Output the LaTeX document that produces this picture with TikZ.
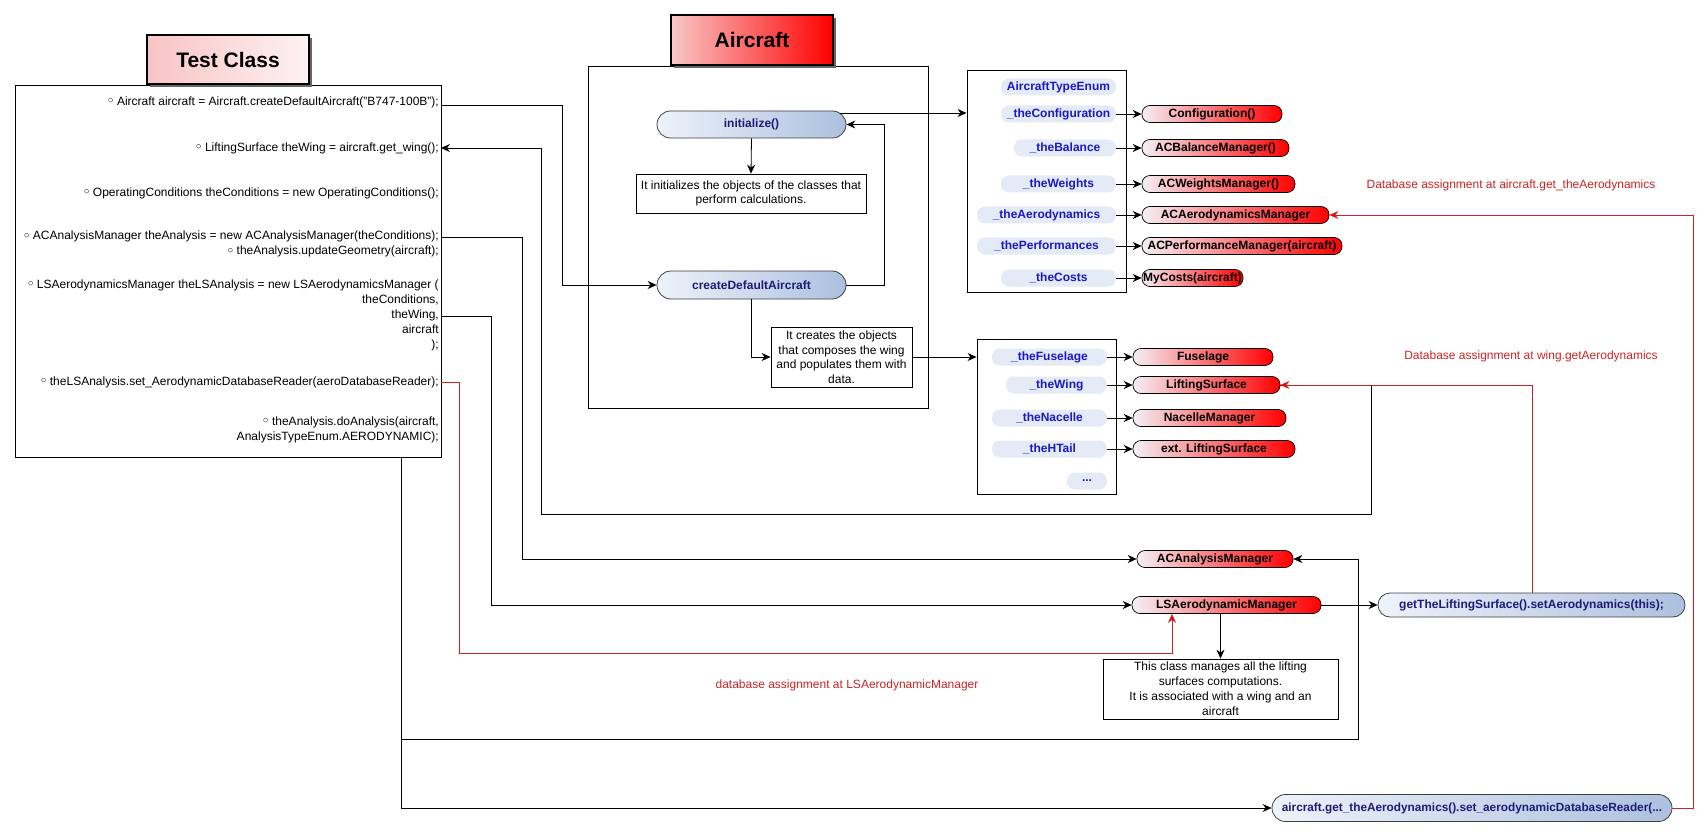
\documentclass[tikz,border=0pt]{standalone}
\usepackage{fontspec}
\setmainfont{Liberation Sans}
\usetikzlibrary{arrows.meta,shadows,calc}
\definecolor{navy}{RGB}{28,28,120}
\definecolor{itemblue}{RGB}{25,25,200}
\definecolor{itemfill}{RGB}{228,234,246}
\definecolor{dbred}{RGB}{205,35,35}
\definecolor{pillL}{RGB}{238,242,250}
\definecolor{pillR}{RGB}{172,192,222}
\definecolor{redL}{RGB}{244,240,246}
\definecolor{redR}{RGB}{255,0,0}
\definecolor{tcL}{RGB}{249,196,196}
\definecolor{tcR}{RGB}{253,242,242}
\definecolor{acL}{RGB}{248,200,200}
\newcommand{\bul}{\raisebox{1.2pt}{\fontsize{9.5}{9.5}\selectfont ○}}
\tikzset{
  arr/.style={draw=black,line width=0.8pt,-{Stealth[length=9pt,width=8pt,inset=3pt]}},
  redarr/.style={draw=dbred,line width=0.8pt,-{Stealth[length=9pt,width=8pt,inset=3pt,fill=red]}},
  plainline/.style={draw=black,line width=0.8pt},
  frame/.style={draw=black,line width=0.9pt,fill=white,inner sep=0pt},
  titlebox/.style={draw=black,line width=2.6pt,inner sep=0pt,
    font=\fontsize{21}{25}\selectfont\bfseries,
    drop shadow={shadow xshift=3pt,shadow yshift=-3pt,fill=black!60,opacity=1}},
  mpill/.style={draw=black!75,line width=0.8pt,left color=pillL,right color=pillR,
    inner sep=0pt,font=\fontsize{12}{14}\selectfont\bfseries,text=navy},
  item/.style={fill=itemfill,rounded corners=8pt,minimum height=17pt,inner sep=0pt,
    font=\fontsize{12}{14}\selectfont\bfseries,text=itemblue},
  rpill/.style={draw=black,line width=0.7pt,left color=redL,right color=redR,
    rounded corners=8pt,minimum height=17pt,inner sep=0pt,
    font=\fontsize{12}{14}\selectfont\bfseries,text=black},
  desc/.style={draw=black,line width=0.8pt,fill=white,inner sep=0pt,align=center,
    font=\fontsize{12}{14.5}\selectfont},
  code/.style={anchor=east,inner sep=0pt,align=right,font=\fontsize{12}{15}\selectfont},
  dbnote/.style={inner sep=0pt,text=dbred,font=\fontsize{12}{14}\selectfont}
}
\begin{document}
\begin{tikzpicture}[x=1pt,y=-1pt]
\useasboundingbox (0,0) rectangle (1708,837);

% ---------- frames ----------
\node[frame,minimum width=426pt,minimum height=372pt] (testbox) at (228,271) {};
\node[frame,minimum width=340pt,minimum height=342pt] (acbox) at (758,237) {};
\node[frame,minimum width=159pt,minimum height=222pt] (attrbox) at (1046.5,181) {};
\node[frame,minimum width=139pt,minimum height=155pt] (fusbox) at (1046.5,416.5) {};

% ---------- titles ----------
\node[titlebox,left color=tcL,right color=tcR,minimum width=162pt,minimum height=49pt] (tctitle) at (228,59.5) {Test Class};
\node[titlebox,left color=acL,right color=redR,minimum width=162pt,minimum height=50pt] (actitle) at (752,40) {Aircraft};

% ---------- test class code ----------
\node[code] (c1) at (439,102) {\bul{} Aircraft aircraft = Aircraft.createDefaultAircraft("B747-100B");};
\node[code] (c2) at (439,148) {\bul{} LiftingSurface theWing = aircraft.get\_wing();};
\node[code] (c3) at (439,193) {\bul{} OperatingConditions theConditions = new OperatingConditions();};
\node[code] (c4) at (439,244) {\bul{} ACAnalysisManager theAnalysis = new ACAnalysisManager(theConditions);\\\bul{} theAnalysis.updateGeometry(aircraft);};
\node[code] (c5) at (439,315) {\bul{} LSAerodynamicsManager theLSAnalysis = new LSAerodynamicsManager (\\theConditions,\\theWing,\\aircraft\\);};
\node[code] (c6) at (439,382) {\bul{} theLSAnalysis.set\_AerodynamicDatabaseReader(aeroDatabaseReader);};
\node[code] (c7) at (439,429.5) {\bul{} theAnalysis.doAnalysis(aircraft,\\AnalysisTypeEnum.AERODYNAMIC);};

% ---------- aircraft internals ----------
\node[mpill,rounded corners=13.5pt,minimum width=189pt,minimum height=27pt] (init) at (751.5,124.5) {initialize()};
\node[desc,minimum width=230pt,minimum height=39pt] (initdesc) at (751,193.5) {It initializes the objects of the classes that\\perform calculations.};
\node[mpill,rounded corners=14pt,minimum width=189pt,minimum height=28pt] (cda) at (751.5,285) {createDefaultAircraft};
\node[desc,minimum width=141pt,minimum height=60pt] (cdadesc) at (841.5,357) {It creates the objects\\that composes the wing\\and populates them with\\data.};

% ---------- attributes ----------
\node[item,minimum width=115pt] (aTE) at (1058.5,87) {AircraftTypeEnum};
\node[item,minimum width=115pt] (aConf) at (1058.5,114) {\_theConfiguration};
\node[item,minimum width=102pt] (aBal) at (1065,148) {\_theBalance};
\node[item,minimum width=115pt] (aW) at (1058.5,184) {\_theWeights};
\node[item,minimum width=139pt] (aAero) at (1046.5,215) {\_theAerodynamics};
\node[item,minimum width=139pt] (aPerf) at (1046.5,246) {\_thePerformances};
\node[item,minimum width=115pt] (aCost) at (1058.5,278) {\_theCosts};

\node[rpill,minimum width=140pt] (rConf) at (1212,114) {Configuration()};
\node[rpill,minimum width=147pt] (rBal) at (1215.5,148) {ACBalanceManager()};
\node[rpill,minimum width=153pt] (rW) at (1218.5,184) {ACWeightsManager()};
\node[rpill,minimum width=187pt] (rAero) at (1235.5,215) {ACAerodynamicsManager};
\node[rpill,minimum width=200pt] (rPerf) at (1242,246) {ACPerformanceManager(aircraft)};
\node[rpill,minimum width=101pt] (rCost) at (1192.5,278) {MyCosts(aircraft)};

\node[item,minimum width=115pt] (fF) at (1049.5,357) {\_theFuselage};
\node[item,minimum width=101pt] (fW) at (1056.5,385) {\_theWing};
\node[item,minimum width=115pt] (fN) at (1049.5,418) {\_theNacelle};
\node[item,minimum width=115pt] (fH) at (1049.5,449) {\_theHTail};
\node[item,minimum width=40pt] (fD) at (1087,481) {...};

\node[rpill,minimum width=140pt] (rFus) at (1203,357) {Fuselage};
\node[rpill,minimum width=147pt] (rLS) at (1206.5,385) {LiftingSurface};
\node[rpill,minimum width=153pt] (rNac) at (1209.5,418) {NacelleManager};
\node[rpill,minimum width=162pt] (rExt) at (1214,449) {ext. LiftingSurface};

% ---------- managers ----------
\node[rpill,minimum width=156pt] (acam) at (1215,559) {ACAnalysisManager};
\node[rpill,minimum width=189pt] (lsam) at (1226.5,605) {LSAerodynamicManager};
\node[desc,minimum width=235pt,minimum height=60pt,font=\fontsize{12}{15}\selectfont] (lsdesc) at (1220.5,689) {This class manages all the lifting\\surfaces computations.\\It is associated with a wing and an\\aircraft};
\node[mpill,rounded corners=12pt,minimum width=307pt,minimum height=24pt] (getls) at (1531.5,605) {getTheLiftingSurface().setAerodynamics(this);};
\node[mpill,rounded corners=13.5pt,minimum width=400pt,minimum height=27pt,font=\fontsize{11.8}{13}\selectfont\bfseries] (setdb) at (1472,808) {aircraft.get\_theAerodynamics().set\_aerodynamicDatabaseReader(...};

% ---------- notes ----------
\node[dbnote] (n1) at (1511,185) {Database assignment at aircraft.get\_theAerodynamics};
\node[dbnote] (n2) at (1531,356) {Database assignment at wing.getAerodynamics};
\node[dbnote] (n3) at (847,685) {database assignment at LSAerodynamicManager};

% ---------- anchor coordinates ----------
\coordinate (tA) at (441,105);
\coordinate (tB) at (441,148);
\coordinate (tC) at (441,237);
\coordinate (tD) at (441,316);
\coordinate (tE) at (441,382);
\coordinate (tF) at (401,457);
\coordinate (tG) at (401,739);
\coordinate (wA) at (562,105);
\coordinate (wB) at (541,514);
\coordinate (wC) at (522,237);
\coordinate (wD) at (491,316);
\coordinate (wE) at (459,382);
\coordinate (wE2) at (459,653);
\coordinate (lsR) at (1371,385);
\coordinate (acR) at (1358,739);
\coordinate (initTop) at (840,113);
\coordinate (loopR) at (884,285);
\coordinate (lsIn) at (1172,653);
\coordinate (dbR) at (1693,808);
\coordinate (getTop) at (1532,593);

% ---------- connectors ----------
\draw[arr] (tA) -- (wA) |- (cda.west);
\draw[arr] (initTop) -- (initTop -| attrbox.west);
\draw[arr] (cda.east) -- (loopR) |- (init.east);
\draw[arr] (init.south) -- (initdesc.north);
\draw[arr] (cda.south) |- (cdadesc.west);
\draw[arr] (cdadesc.east) -- (cdadesc.east -| fusbox.west);

\foreach \a/\b in {aConf/rConf,aBal/rBal,aW/rW,aAero/rAero,aPerf/rPerf,aCost/rCost,fF/rFus,fW/rLS,fN/rNac,fH/rExt}
  \draw[arr] (\a.east) -- (\b.west);

\draw[plainline] (rLS.east) -- (lsR) |- (wB);
\draw[arr] (wB) |- (tB);
\draw[redarr] (getTop) |- (rLS.east);

\draw[arr] (tC) -- (wC) |- (acam.west);
\draw[arr] (tD) -- (wD) |- (lsam.west);
\draw[redarr] (tE) -- (wE) -- (wE2) -| (lsIn |- lsam.south);
\draw[arr] (tF) |- (setdb.west);
\draw[arr] (tG) -- (acR) |- (acam.east);
\draw[arr] (lsdesc.north |- lsam.south) -- (lsdesc.north);
\draw[arr] (lsam.east) -- (getls.west);
\draw[redarr] (setdb.east) -- (dbR) |- (rAero.east);
\end{tikzpicture}
\end{document}
